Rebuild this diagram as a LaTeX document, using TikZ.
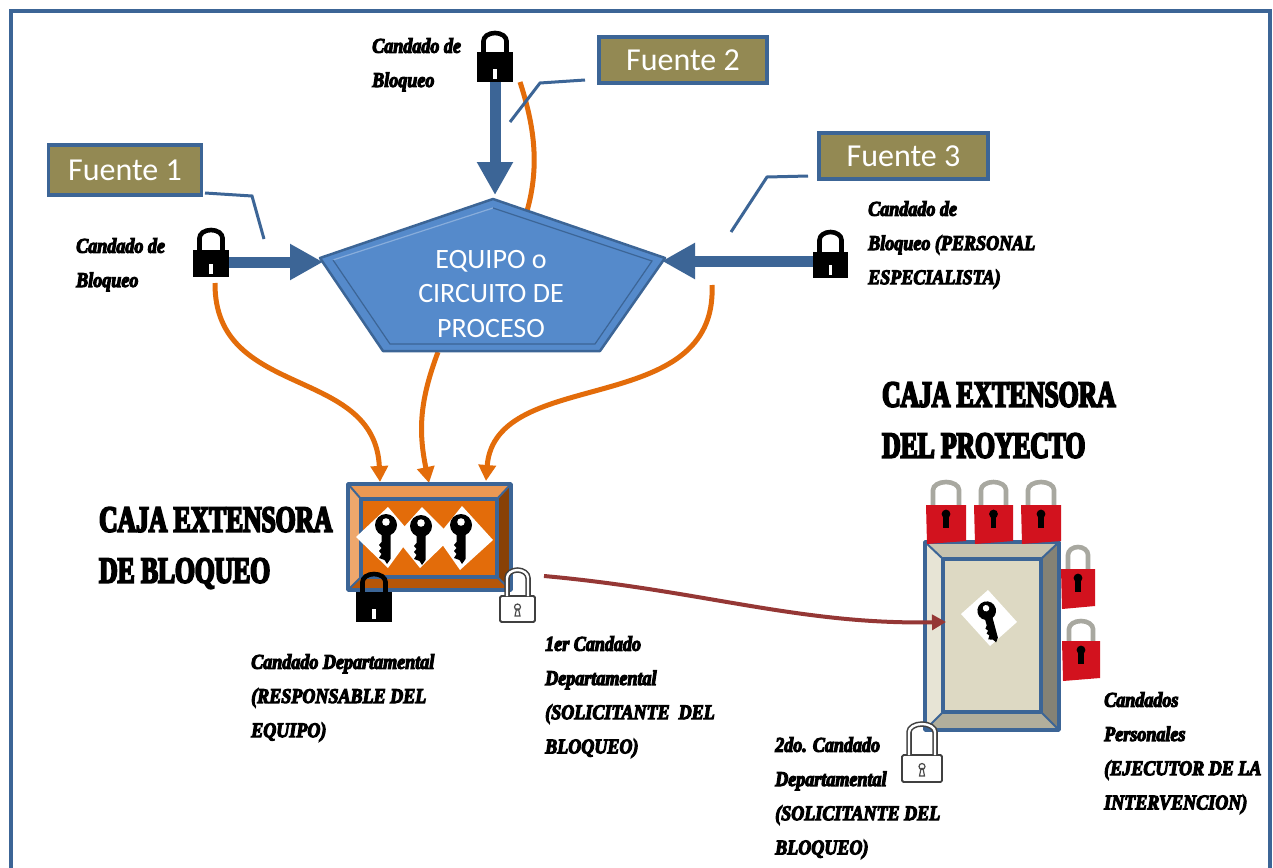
\documentclass[tikz,border=0pt]{standalone}
\usepackage{fontspec}
\setmainfont{Carlito}
\newfontfamily\inkfont[FakeStretch=0.86,FakeBold=5]{Liberation Serif Bold Italic}
\newfontfamily\titlefont[FakeStretch=0.69,FakeBold=5]{Liberation Serif Bold}
\usetikzlibrary{arrows.meta,calc}
\definecolor{frameblue}{HTML}{3C6596}
\definecolor{pentablue}{HTML}{558ACB}
\definecolor{fuentebg}{HTML}{938953}
\definecolor{orangeline}{HTML}{E36C0A}
\definecolor{redarrow}{HTML}{953735}
\definecolor{lockred}{HTML}{D2121E}
\definecolor{shacklegray}{HTML}{A8A8A0}
\definecolor{boxbeige}{HTML}{DDD9C3}
\tikzset{
  x=1pt,y=-1pt,
  fuentebox/.style={draw=frameblue,line width=3.2pt,fill=fuentebg,text=white,font=\fontsize{32}{32}\selectfont,inner sep=0pt,anchor=center},
  calloutline/.style={draw=frameblue,line width=3pt},
  feedline/.style={draw=orangeline,line width=5pt},
  feedarrow/.style={feedline,-{Triangle[length=16pt,width=17pt,fill=orangeline]}},
  powerarrow/.style={draw=frameblue,line width=11pt,-{Triangle[length=33pt,width=34pt,fill=frameblue]}},
  inklabel/.style={font=\inkfont\fontsize{21}{34.2}\selectfont,align=left,anchor=north west,inner sep=0pt,text=black},
  bigtitle/.style={font=\titlefont\fontsize{37}{51}\selectfont,align=left,anchor=north west,inner sep=0pt,text=black},
  bevel/.style={draw=frameblue,line width=3.6pt,line join=round},
  penta/.style={draw=frameblue,line width=2.5pt,line join=round}
}
% black padlock: left, top of body, right, bottom, shackle top
\newcommand{\blacklock}[5]{%
  \fill[black] (#1,#2) rectangle (#3,#4);
  \draw[black,line width=4.6pt] ({#1+6.5},#2) -- ({#1+6.5},{#5+10}) arc[start angle=180,end angle=0,x radius={(#3-#1-13)/2},y radius=-8] -- ({#3-6.5},#2);
  \fill[white] ({(#1+#3)/2-1.7},{#4-13}) rectangle ({(#1+#3)/2+1.7},{#4-3});
}
\newcommand{\whitelock}[5]{%
  \draw[black!75,line width=1.8pt,fill=white,rounded corners=1.5pt] (#1,#2) rectangle (#3,#4);
  \draw[black!75,line width=5.5pt] ({#1+7},#2) -- ({#1+7},{#5+10}) arc[start angle=180,end angle=0,x radius={(#3-#1-14)/2},y radius=-8] -- ({#3-7},#2);
  \draw[white,line width=2.4pt] ({#1+7},#2) -- ({#1+7},{#5+10}) arc[start angle=180,end angle=0,x radius={(#3-#1-14)/2},y radius=-8] -- ({#3-7},#2);
  \draw[black!70,line width=1.2pt,fill=white] ({(#1+#3)/2},{(#2+#4)/2-2}) circle[radius=3];
  \draw[black!70,line width=1.2pt] ({(#1+#3)/2-2.5},{#4-6}) -- ({(#1+#3)/2+2.5},{#4-6}) -- ({(#1+#3)/2+1},{(#2+#4)/2}) -- ({(#1+#3)/2-1},{(#2+#4)/2}) -- cycle;
}
\newcommand{\redlock}[5]{%
  \draw[shacklegray,line width=4.6pt] ({#1+7},#2) -- ({#1+7},{#5+10}) arc[start angle=180,end angle=0,x radius={(#3-#1-14)/2},y radius=-8] -- ({#3-7},#2);
  \fill[lockred] (#1,#2) -- (#3,#2) -- (#3,#4) -- ({#1+1},{#4+3}) -- cycle;
  \fill[black] ({(#1+#3)/2},{#2+9}) circle[radius=4.4];
  \fill[black] ({(#1+#3)/2-2.6},{#2+9}) rectangle ({(#1+#3)/2+2.6},{#2+23});
}
% key: head centre, scale
\newcommand{\keyicon}[4][0]{%
  \begin{scope}[shift={(#2,#3)},rotate=#1,scale=#4]
    \fill[black] (0,-15) circle[radius=11];
    \fill[white] (0,-18) circle[radius=3.8];
    \fill[black] (-4.5,-7) -- (4.5,-7) -- (4.5,19) -- (1,24) -- (-1.5,20) -- (-7,18) -- (-4.5,14) -- (-7,11) -- (-4.5,8) -- (-7,5) -- (-4.5,2) -- cycle;
  \end{scope}
}
\begin{document}
\begin{tikzpicture}
\useasboundingbox (0,0) rectangle (1273,867);
\fill[white] (0,0) rectangle (1273,867);
\draw[frameblue,line width=3.4pt] (11,880) -- (11,11) -- (1270,11) -- (1270,880);

% named anchor points
\coordinate (lockL) at (229,262);
\coordinate (pentaL) at (323,262);
\coordinate (lockT) at (495,82);
\coordinate (pentaT) at (495,195);
\coordinate (lockR) at (813,261);
\coordinate (pentaR) at (662,261);

% orange lines
\coordinate (o1a) at (215,283);
\coordinate (o1b) at (380,482);
\coordinate (o2a) at (438,352);
\coordinate (o2b) at (429,483);
\coordinate (o3a) at (712,285);
\coordinate (o3b) at (486,481);
\coordinate (o4a) at (520,82);
\coordinate (o4b) at (527,211);
\draw[feedline] (o4a) .. controls (534,125) and (540,165) .. (o4b);
\draw[feedarrow] (o1a) .. controls (214,400) and (375,365) .. (o1b);
\draw[feedarrow] (o2a) .. controls (420,400) and (418,430) .. (o2b);
\draw[feedarrow] (o3a) .. controls (718,420) and (495,365) .. (o3b);

% pentagon
\path[fill=pentablue,penta] (493,199) -- (665,258) -- (600,351) -- (383,351) -- (320,258) -- cycle;
\draw[pentablue!70!white,line width=1.2pt] (333,260) -- (493,208);
\draw[frameblue,line width=1.2pt] (493,208) -- (652,261) -- (595,344) -- (390,344) -- (333,260);
\node[text=white,font=\fontsize{28}{34.5}\selectfont,align=center,inner sep=0pt] (equipo) at (491,294) {EQUIPO o\\CIRCUITO DE\\PROCESO};

% power arrows
\draw[powerarrow] (lockT) -- (pentaT);
\draw[powerarrow] (lockL) -- (pentaL);
\draw[powerarrow] (lockR) -- (pentaR);

% black padlocks
\blacklock{193}{250}{229}{277}{228}
\blacklock{477}{52}{513}{82}{31}
\blacklock{813}{252}{848}{278}{230}

% sources
\node[fuentebox,minimum width=153pt,minimum height=50pt] (f1) at (125,170) {Fuente 1};
\node[fuentebox,minimum width=168pt,minimum height=46pt] (f2) at (683,60) {Fuente 2};
\node[fuentebox,minimum width=169pt,minimum height=46pt] (f3) at (903.5,156) {Fuente 3};
\coordinate (c1a) at (205,193);
\coordinate (c1b) at (264,239);
\coordinate (c2a) at (585,80);
\coordinate (c2b) at (510,122);
\coordinate (c3a) at (808,176);
\coordinate (c3b) at (731,232);
\draw[calloutline] (c1a) -- (252,196) -- (c1b);
\draw[calloutline] (c2a) -- (540,83) -- (c2b);
\draw[calloutline] (c3a) -- (767,177) -- (c3b);

% small box
\fill[orangeline] (348,484) rectangle (511,590);
\fill[orangeline!70!white] (348,484) -- (511,484) -- (497,499) -- (361,499) -- cycle;
\fill[orangeline!60!white] (348,484) -- (361,499) -- (361,577) -- (348,590) -- cycle;
\fill[orangeline!60!black] (511,484) -- (497,499) -- (497,577) -- (511,590) -- cycle;
\fill[orangeline!80!black] (348,590) -- (361,577) -- (497,577) -- (511,590) -- cycle;
\draw[bevel] (348,484) rectangle (511,590);
\draw[bevel] (361,499) rectangle (497,577);
\draw[frameblue,line width=2pt] (348,484) -- (361,499) (511,484) -- (497,499) (348,590) -- (361,577) (511,590) -- (497,577);
\fill[white] (388,507) -- (412,535) -- (388,568) -- (356,537) -- cycle;
\fill[white] (422,507) -- (452,537) -- (420,568) -- (395,537) -- cycle;
\fill[white] (462,506) -- (493,540) -- (460,570) -- (437,537) -- cycle;
\keyicon{386}{540}{1}
\keyicon{421}{541}{1}
\keyicon{461}{540}{1}
\blacklock{356}{592}{392}{622}{572}
\whitelock{500}{596}{535}{622}{568}

% project box
\fill[boxbeige] (925,542) rectangle (1059,730);
\fill[boxbeige!70!white] (925,542) -- (943,559) -- (943,712) -- (925,730) -- cycle;
\fill[boxbeige!90!black] (925,542) -- (1059,542) -- (1041,559) -- (943,559) -- cycle;
\fill[boxbeige!60!black] (1059,542) -- (1041,559) -- (1041,712) -- (1059,730) -- cycle;
\fill[boxbeige!80!black] (925,730) -- (943,712) -- (1041,712) -- (1059,730) -- cycle;
\draw[bevel] (925,542) rectangle (1059,730);
\draw[bevel] (943,559) rectangle (1041,712);
\draw[frameblue,line width=2pt] (925,542) -- (943,559) (1059,542) -- (1041,559) (925,730) -- (943,712) (1059,730) -- (1041,712);
\fill[white] (988,590) -- (1017,622) -- (990,646) -- (961,614) -- cycle;
\keyicon[15]{990}{623}{0.85}

\redlock{926}{505}{966}{541}{480}
\redlock{974}{505}{1013}{541}{480}
\redlock{1021}{505}{1061}{541}{480}
\redlock{1061}{569}{1095}{606}{545}
\redlock{1062}{641}{1100}{678}{619}
\whitelock{902}{755}{942}{782}{722}

% red connector
\coordinate (r1) at (544,576);
\coordinate (r2) at (946,622);
\draw[draw=redarrow,line width=4pt,-{Triangle[length=14pt,width=15pt,fill=redarrow]}] (r1) .. controls (700,590) and (800,625) .. (r2);

% labels
\node[inklabel] (t1) at (76,238) {Candado de\\Bloqueo};
\node[inklabel] (t2) at (372,38) {Candado de\\Bloqueo};
\node[inklabel] (t3) at (868,201) {Candado de\\Bloqueo (PERSONAL\\ESPECIALISTA)};
\node[inklabel] (t4) at (251,654) {Candado Departamental\\(RESPONSABLE DEL\\EQUIPO)};
\node[inklabel] (t5) at (545,636) {1er Candado\\Departamental\\(SOLICITANTE~~DEL\\BLOQUEO)};
\node[inklabel] (t6) at (775,737) {2do. Candado\\Departamental\\(SOLICITANTE DEL\\BLOQUEO)};
\node[inklabel] (t7) at (1104,692) {Candados\\Personales\\(EJECUTOR DE LA\\INTERVENCION)};
\node[bigtitle] (tt1) at (99,507) {CAJA EXTENSORA\\DE BLOQUEO};
\node[bigtitle] (tt2) at (882,382) {CAJA EXTENSORA\\DEL PROYECTO};
\end{tikzpicture}
\end{document}
